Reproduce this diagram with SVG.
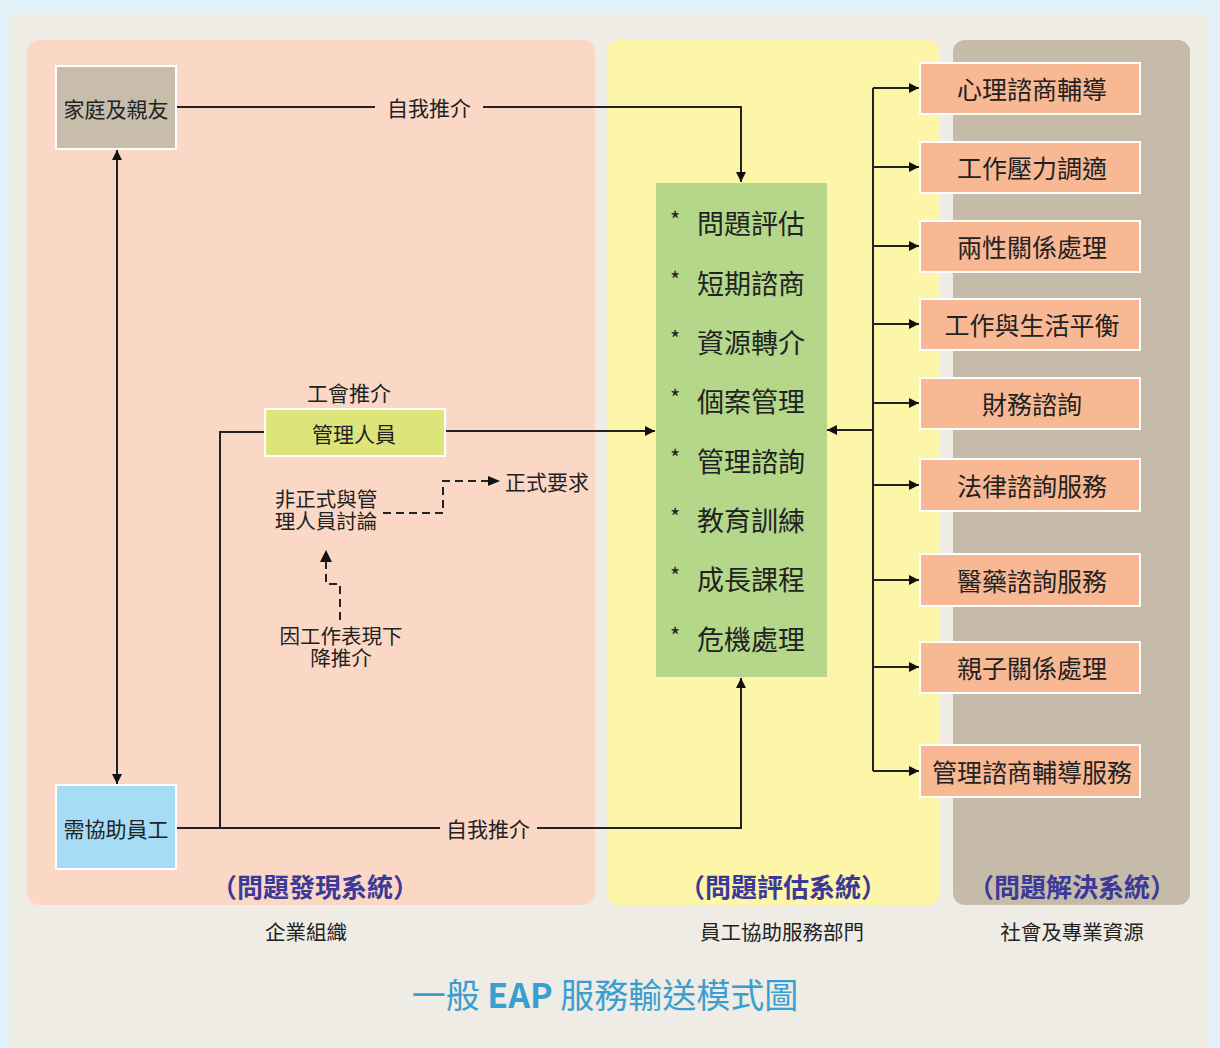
<svg xmlns="http://www.w3.org/2000/svg" width="1220" height="1048" viewBox="0 0 1220 1048">
<defs>
<marker id="ah" viewBox="0 0 10 10" refX="10" refY="5" markerWidth="10" markerHeight="10" markerUnits="userSpaceOnUse" orient="auto-start-reverse"><path d="M0,0 L10,5 L0,10 z" fill="#111"/></marker>
<marker id="ahs" viewBox="0 0 10 10" refX="10" refY="5" markerWidth="10" markerHeight="10" markerUnits="userSpaceOnUse" orient="auto"><path d="M0,0 L10,5 L0,10 z" fill="#111"/></marker>
</defs>
<style>
text{font-family:"Noto Sans CJK TC","Noto Sans CJK SC",sans-serif;fill:#222;dominant-baseline:central}
.n{font-size:21px;text-anchor:middle}
.g{font-size:27px}
.st{font-size:22px}
.r{font-size:25px;text-anchor:middle}
.sec{font-size:26px;font-weight:bold;fill:#3b3a98;text-anchor:middle}
.cap{font-size:20.5px;text-anchor:middle}
.ln{fill:none;stroke:#222;stroke-width:2}
.dl{fill:none;stroke:#222;stroke-width:2;stroke-dasharray:8,5}
.rb{fill:#f9b894;stroke:#fff;stroke-width:2}
</style>
<rect x="0" y="0" width="1220" height="1048" fill="#e2f0fa"/>
<rect x="10" y="14" width="1200" height="1034" fill="#eeece4"/>
<rect x="27" y="40" width="568" height="865" rx="12" fill="#fbd8c6"/>
<rect x="607" y="40" width="333" height="865" rx="12" fill="#fdf6a8"/>
<rect x="953" y="40" width="237" height="865" rx="12" fill="#c6bba8"/>

<g id="connectors">
<path class="ln" d="M175,107 H375 M483,107 H741 V182" marker-end="url(#ahs)"/>
<line class="ln" x1="117" y1="150" x2="117" y2="784" marker-start="url(#ah)" marker-end="url(#ah)"/>
<path class="ln" d="M175,828 H440 M537,828 H741 V678" marker-end="url(#ahs)"/>
<path class="ln" d="M220,828 V432 H265"/>
<line class="ln" x1="444" y1="431" x2="655" y2="431" marker-end="url(#ah)"/>
<path class="dl" d="M383,513 H443 V481 H488" />
<path d="M488,476 L500,481 L488,486 z" fill="#111"/>
<path class="dl" d="M340,620 V584 H326 V560"/>
<path d="M320,562 L326,550 L332,562 z" fill="#111"/>
<line class="ln" x1="873" y1="88" x2="873" y2="771"/>
<line class="ln" x1="873" y1="430" x2="827" y2="430" marker-end="url(#ah)"/>
<line class="ln" x1="873" y1="88" x2="919" y2="88" marker-end="url(#ah)"/>
<line class="ln" x1="873" y1="167" x2="919" y2="167" marker-end="url(#ah)"/>
<line class="ln" x1="873" y1="246" x2="919" y2="246" marker-end="url(#ah)"/>
<line class="ln" x1="873" y1="324" x2="919" y2="324" marker-end="url(#ah)"/>
<line class="ln" x1="873" y1="403" x2="919" y2="403" marker-end="url(#ah)"/>
<line class="ln" x1="873" y1="485" x2="919" y2="485" marker-end="url(#ah)"/>
<line class="ln" x1="873" y1="580" x2="919" y2="580" marker-end="url(#ah)"/>
<line class="ln" x1="873" y1="667" x2="919" y2="667" marker-end="url(#ah)"/>
<line class="ln" x1="873" y1="771" x2="919" y2="771" marker-end="url(#ah)"/>
</g>

<text class="n" x="429" y="107">自我推介</text>
<text class="n" x="488" y="828">自我推介</text>
<text class="n" x="349" y="392">工會推介</text>
<text class="n" x="547" y="481">正式要求</text>
<text class="n" style="font-size:20.5px"><tspan x="326" y="498">非正式與管</tspan><tspan x="326" y="520">理人員討論</tspan></text>
<text class="n" style="font-size:20.5px"><tspan x="341" y="635">因工作表現下</tspan><tspan x="341" y="657">降推介</tspan></text>

<g id="family"><rect x="56" y="66" width="120" height="83" fill="#c8bdab" stroke="#fff" stroke-width="2"/><text class="n" x="116" y="108">家庭及親友</text></g>
<g id="employee"><rect x="56" y="785" width="120" height="84" fill="#a6dcf6" stroke="#fff" stroke-width="2"/><text class="n" x="116" y="828">需協助員工</text></g>
<g id="manager"><rect x="265" y="409" width="180" height="47" fill="#dde47a" stroke="#fff" stroke-width="2"/><text class="n" x="354" y="433">管理人員</text></g>

<g id="eap">
<rect x="656" y="183" width="171" height="494" fill="#b4d78a"/>
<text class="st" x="670" y="218">*</text><text class="g" x="697" y="222">問題評估</text>
<text class="st" x="670" y="278">*</text><text class="g" x="697" y="282">短期諮商</text>
<text class="st" x="670" y="337">*</text><text class="g" x="697" y="341">資源轉介</text>
<text class="st" x="670" y="396">*</text><text class="g" x="697" y="400">個案管理</text>
<text class="st" x="670" y="456">*</text><text class="g" x="697" y="460">管理諮詢</text>
<text class="st" x="670" y="515">*</text><text class="g" x="697" y="519">教育訓練</text>
<text class="st" x="670" y="574">*</text><text class="g" x="697" y="578">成長課程</text>
<text class="st" x="670" y="634">*</text><text class="g" x="697" y="638">危機處理</text>
</g>

<g id="r1"><rect class="rb" x="920" y="63" width="220" height="51"/><text class="r" x="1032" y="88">心理諮商輔導</text></g>
<g id="r2"><rect class="rb" x="920" y="142" width="220" height="51"/><text class="r" x="1032" y="167">工作壓力調適</text></g>
<g id="r3"><rect class="rb" x="920" y="221" width="220" height="51"/><text class="r" x="1032" y="246">兩性關係處理</text></g>
<g id="r4"><rect class="rb" x="920" y="299" width="220" height="51"/><text class="r" x="1032" y="324">工作與生活平衡</text></g>
<g id="r5"><rect class="rb" x="920" y="378" width="220" height="51"/><text class="r" x="1032" y="403">財務諮詢</text></g>
<g id="r6"><rect class="rb" x="920" y="459" width="220" height="52"/><text class="r" x="1032" y="485">法律諮詢服務</text></g>
<g id="r7"><rect class="rb" x="920" y="554" width="220" height="52"/><text class="r" x="1032" y="580">醫藥諮詢服務</text></g>
<g id="r8"><rect class="rb" x="920" y="642" width="220" height="51"/><text class="r" x="1032" y="667">親子關係處理</text></g>
<g id="r9"><rect class="rb" x="920" y="745" width="220" height="52"/><text class="r" x="1032" y="771">管理諮商輔導服務</text></g>

<text class="sec" x="315" y="885">（問題發現系統）</text>
<text class="sec" x="783" y="885">（問題評估系統）</text>
<text class="sec" x="1072" y="885">（問題解決系統）</text>
<text class="cap" x="306" y="931">企業組織</text>
<text class="cap" x="782" y="931">員工協助服務部門</text>
<text class="cap" x="1072" y="931">社會及專業資源</text>
<text x="605" y="993" style="font-size:34px;fill:#3a9fd0;text-anchor:middle">一般 <tspan font-weight="bold">EAP</tspan> 服務輸送模式圖</text>
</svg>
